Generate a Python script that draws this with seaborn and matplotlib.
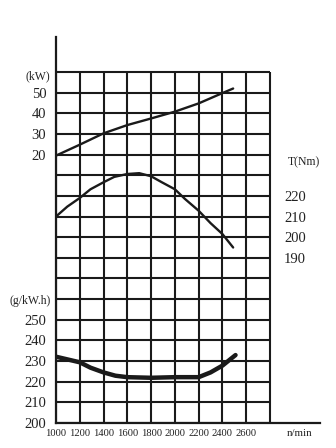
import matplotlib
matplotlib.use("Agg")
import matplotlib.pyplot as plt
import seaborn as sns
import pandas as pd
import numpy as np

# ---- data ----
rpm = [1000, 1200, 1400, 1600, 1800, 2000, 2200, 2400, 2490]
power_kw = [19.5, 24.8, 30.3, 34.3, 37.5, 40.8, 44.8, 49.8, 52.0]

rpm_t = [1000, 1095, 1200, 1290, 1400, 1490, 1600, 1700, 1800, 1890,
         2000, 2085, 2200, 2300, 2400, 2490]
torque_nm = [210.0, 214.8, 219.0, 223.2, 226.6, 229.2, 230.6, 231.0, 229.5, 226.6,
             223.2, 218.5, 212.8, 206.8, 201.5, 195.0]

rpm_f = [1000, 1200, 1290, 1400, 1500, 1600, 1800, 2000, 2200, 2300, 2400, 2510]
fuel_g = [232.1, 229.4, 226.8, 224.5, 222.9, 222.2, 221.9, 222.2, 222.2, 224.5, 227.8, 232.9]

x_ticks = [1000, 1200, 1400, 1600, 1800, 2000, 2200, 2400, 2600]
power_ticks = [20, 30, 40, 50]
torque_ticks = [220, 210, 200, 190]
fuel_ticks = [200, 210, 220, 230, 240, 250]

df_p = pd.DataFrame({"rpm": rpm, "val": power_kw})
df_t = pd.DataFrame({"rpm": rpm_t, "val": torque_nm})
df_f = pd.DataFrame({"rpm": rpm_f, "val": fuel_g})

sns.set_theme(style="white")
plt.rcParams["font.family"] = ["Liberation Serif", "DejaVu Serif"]
plt.rcParams["lines.solid_capstyle"] = "round"
plt.rcParams["lines.solid_joinstyle"] = "round"

W, H = 336, 448
fig = plt.figure(figsize=(W / 100, H / 100), dpi=100)

# pixel geometry
gx0, gx1 = 56, 270     # grid left/right
gy_bot, gy_top = 423, 72
ax_right = 320
ax_top = 37
col_px = (gx1 - gx0) / 9
row_px = (gy_bot - gy_top) / 17

xmax = 1000 + (ax_right - gx0) / col_px * 200
nrows_total = (gy_bot - ax_top) / row_px

TXT = "#222222"
INK = "#1a1a1a"

# main axes (fuel consumption)
ax = fig.add_axes([gx0 / W, (H - gy_bot) / H, (ax_right - gx0) / W, (gy_bot - ax_top) / H])
ax.set_xlim(1000, xmax)
ax.set_ylim(200, 200 + nrows_total * 10)
ax.set_facecolor("none")
for s in ["top", "right"]:
    ax.spines[s].set_visible(False)
for s in ["left", "bottom"]:
    ax.spines[s].set_color(INK)
    ax.spines[s].set_linewidth(1.6)

grid_kw = dict(color=INK, linewidth=1.5, zorder=1)
ax.vlines(np.arange(1000, 2801, 200), 200, 370, **grid_kw)
ax.hlines(np.arange(200, 371, 10), 1000, 2800, **grid_kw)

sns.lineplot(data=df_f, x="rpm", y="val", ax=ax, color=INK, linewidth=3.2, zorder=3)
ax.set_xlabel("")
ax.set_ylabel("")
ax.set_xticks(x_ticks)
ax.set_xticklabels([str(v) for v in x_ticks], fontsize=7.6, color=TXT)
ax.set_yticks(fuel_ticks)
ax.set_yticklabels([str(v) for v in fuel_ticks], fontsize=10.5, color=TXT)
ax.tick_params(axis="both", length=0)
ax.tick_params(axis="x", pad=4)
ax.tick_params(axis="y", pad=7)
ax.annotate("n/min", xy=(2940, 200), xycoords="data",
            xytext=(0, -4), textcoords="offset points", ha="left", va="top",
            fontsize=7.8, color=TXT)
ax.annotate("(g/kW.h)", xy=(0, 259), xycoords=("axes fraction", "data"),
            xytext=(-4, 0), textcoords="offset points", ha="right", va="center",
            fontsize=8.5, color=TXT)

# power axis (same frame)
axp = ax.twinx()
axp.set_ylim(-110, -110 + nrows_total * 10)
axp.set_xlim(1000, xmax)
for s in axp.spines.values():
    s.set_visible(False)
sns.lineplot(data=df_p, x="rpm", y="val", ax=axp, color=INK, linewidth=1.7, zorder=3)
axp.set_xlabel("")
axp.set_ylabel("")
axp.yaxis.tick_left()
axp.set_yticks(power_ticks)
axp.set_yticklabels([str(v) for v in power_ticks], fontsize=10.5, color=TXT)
axp.tick_params(axis="y", length=0, pad=7)
axp.annotate("(kW)", xy=(0, 57.7), xycoords=("axes fraction", "data"),
             xytext=(-4, 0), textcoords="offset points", ha="right", va="center",
             fontsize=8.5, color=TXT)

# torque axis (grid frame only)
axt = fig.add_axes([gx0 / W, (H - gy_bot) / H, (gx1 - gx0) / W, (gy_bot - gy_top) / H])
axt.set_facecolor("none")
axt.set_xlim(1000, 2800)
axt.set_ylim(110, 280)
for s in axt.spines.values():
    s.set_visible(False)
sns.lineplot(data=df_t, x="rpm", y="val", ax=axt, color=INK, linewidth=1.7, zorder=3)
axt.set_xlabel("")
axt.set_ylabel("")
axt.set_xticks([])
axt.yaxis.tick_right()
axt.set_yticks(torque_ticks)
axt.set_yticklabels([str(v) for v in torque_ticks], fontsize=10.5, color=TXT)
axt.tick_params(axis="y", length=0, pad=10)
axt.annotate("T(Nm)", xy=(1, 236.3), xycoords=("axes fraction", "data"),
             xytext=(13, 0), textcoords="offset points", ha="left", va="center",
             fontsize=8.5, color=TXT)

fig.savefig("out.png", dpi=100)
